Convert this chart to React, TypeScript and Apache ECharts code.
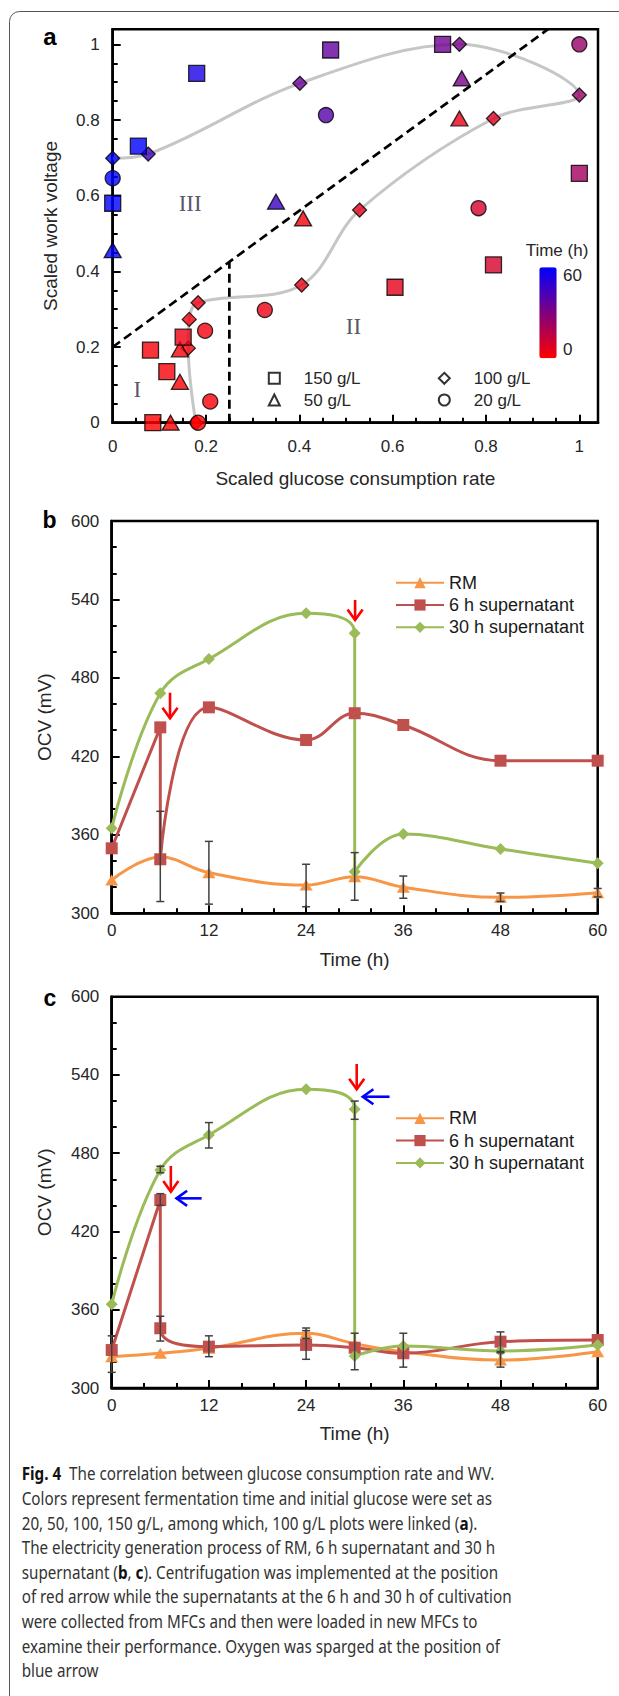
import React, { useEffect, useRef } from "react";
import * as echarts from "echarts";

const FONT = '"Liberation Sans", Arial, sans-serif';
const SERIF = '"Liberation Serif", "Times New Roman", serif';
const CAP_FONT = '"Liberation Sans Narrow", "Noto Sans", sans-serif';

// ---------- Panel a: [scaled glucose consumption rate, scaled work voltage, time (h)] ----------
const glucose150 = [
  [0.18, 0.923, 54], [0.055, 0.731, 60], [0, 0.58, 60], [0.467, 0.985, 37],
  [0.707, 1.0, 34], [1.0, 0.659, 22], [0.816, 0.417, 10], [0.605, 0.358, 6],
  [0.151, 0.226, 4], [0.081, 0.192, 2], [0.116, 0.135, 2], [0.086, 0, 0],
];
const glucose50 = [
  [0, 0.456, 60], [0.35, 0.584, 46], [0.748, 0.91, 32], [0.743, 0.804, 6],
  [0.408, 0.54, 3], [0.144, 0.194, 2], [0.144, 0.108, 1], [0.124, 0, 0],
];
// 100 g/L, listed in time order (these points are linked)
const glucose100 = [
  [0.178, 0, 0], [0.162, 0.197, 2], [0.164, 0.273, 3], [0.183, 0.317, 4],
  [0.405, 0.364, 5], [0.529, 0.562, 6], [0.816, 0.804, 8], [1.0, 0.866, 24],
  [0.743, 1.0, 32], [0.401, 0.897, 36], [0.076, 0.71, 46], [0, 0.699, 60],
];
const glucose20 = [
  [0.183, 0, 0], [0.209, 0.056, 1], [0.198, 0.243, 3], [0.326, 0.298, 4],
  [0.784, 0.567, 10], [0.457, 0.813, 40], [1.0, 1.0, 24], [0, 0.646, 60],
];
const boundaryDiagonal = [[0, 0.2], [0.933, 1.04]];
const boundaryVertical = [[0.25, 0], [0.25, 0.425]];
const regionNames = ["I", "II", "III"];
const regionPositions = [[0.053, 0.088], [0.516, 0.254], [0.166, 0.58]];
const shapeLegendLeft = ["150 g/L", "50 g/L"];
const shapeLegendRight = ["100 g/L", "20 g/L"];
const timeRange = [0, 60];

// ---------- Panel b: [time (h), OCV (mV)] ----------
const rmB = [[0, 325.5], [6, 343], [12, 331], [24, 321.6], [30, 328], [36, 320], [48, 312.2], [60, 315.8]];
const sup6B = [[0, 349.7], [6, 442.2], [6, 341.3], [12, 457.5], [24, 432.5], [30, 453], [36, 444], [48, 416.7], [60, 416.7]];
const sup30B = [[0, 365], [6, 468.2], [12, 494.5], [24, 529.4], [30, 514.1], [30, 331.8], [36, 360.6], [48, 349.2], [60, 338.2]];
// [time, low, high]
const errorB = [[6, 309, 378], [12, 307, 355], [24, 305, 337.5], [30, 310, 346.4], [36, 311.5, 328.5], [48, 309, 315.5], [60, 312.5, 319]];
// [x0, y0, x1(tip), y1(tip)]
const redArrowsB = [[7.2, 468.7, 7.2, 449.1], [30.05, 539.6, 30.05, 524.3]];

// ---------- Panel c ----------
const rmC = [[0, 324], [6, 326.6], [12, 330.4], [24, 342], [30, 334], [36, 327.8], [48, 321.4], [60, 327.8]];
const sup6C = [[0, 329.1], [6, 444.1], [6, 345.8], [12, 331.7], [24, 333], [30, 330.9], [36, 326.6], [48, 335.5], [60, 336.8]];
const sup30C = [[0, 364.2], [6, 467.1], [12, 494], [24, 529], [30, 513.7], [30, 324.5], [36, 332.2], [48, 328.4], [60, 333]];
const errorC = [
  [0, 312, 340], [6, 440, 449], [6, 465, 470], [6, 336, 355], [12, 484, 503.5], [12, 324, 340],
  [24, 322, 344], [24, 338, 346], [30, 506, 520], [30, 314, 342], [36, 316, 342],
  [48, 328, 343], [48, 316, 327],
];
const redArrowsC = [[7.3, 470.2, 7.3, 450.5], [30.25, 548.4, 30.25, 529]];
const blueArrowsC = [[11.1, 445.4, 8.0, 445.4], [34.3, 523.3, 31.0, 523.3]];

const lineNames = ["RM", "6 h supernatant", "30 h supernatant"];
const lineColors = ["#f79646", "#c0504d", "#9bbb59"];

const captionLines = [
  "{b|Fig. 4}  The correlation between glucose consumption rate and WV.",
  "Colors represent fermentation time and initial glucose were set as",
  "20, 50, 100, 150 g/L, among which, 100 g/L plots were linked ({b|a}).",
  "The electricity generation process of RM, 6 h supernatant and 30 h",
  "supernatant ({b|b}, {b|c}). Centrifugation was implemented at the position",
  "of red arrow while the supernatants at the 6 h and 30 h of cultivation",
  "were collected from MFCs and then were loaded in new MFCs to",
  "examine their performance. Oxygen was sparged at the position of",
  "blue arrow",
];

const LABEL_COLOR = "#262626";

function majorAxis(o: any) {
  return {
    type: "value",
    gridIndex: o.gridIndex,
    position: o.position,
    min: o.min,
    max: o.max,
    interval: o.interval,
    name: o.name,
    nameLocation: "middle",
    nameGap: o.nameGap,
    nameTextStyle: { color: LABEL_COLOR, fontSize: 19, fontFamily: FONT },
    axisLine: { show: true, onZero: false, lineStyle: { color: "#000", width: 2.5 } },
    axisTick: { show: true, inside: true, length: 8, lineStyle: { color: "#000", width: 2 } },
    minorTick: o.minor
      ? { show: true, splitNumber: o.minor, length: 5, lineStyle: { color: "#000", width: 2 } }
      : { show: false },
    splitLine: { show: false },
    axisLabel: { color: LABEL_COLOR, fontSize: 17, fontFamily: FONT, margin: o.margin, showMaxLabel: o.showMax !== false },
  };
}
function minorAxis(o: any) {
  return {
    type: "value",
    gridIndex: o.gridIndex,
    position: o.position,
    min: o.min,
    max: o.max,
    interval: o.interval,
    axisLine: { show: false },
    axisTick: { show: true, inside: true, length: 5, lineStyle: { color: "#000", width: 2 } },
    axisLabel: { show: false },
    splitLine: { show: false },
  };
}

function errorSeries(data: number[][], xi: number, yi: number) {
  return {
    type: "custom",
    xAxisIndex: xi,
    yAxisIndex: yi,
    data,
    z: 6,
    silent: true,
    renderItem: (_p: any, api: any) => {
      const x = api.value(0);
      const lo = api.coord([x, api.value(1)]);
      const hi = api.coord([x, api.value(2)]);
      const w = 4;
      const st = { stroke: "#404040", lineWidth: 1.5 };
      return {
        type: "group",
        children: [
          { type: "line", shape: { x1: lo[0], y1: lo[1], x2: hi[0], y2: hi[1] }, style: st },
          { type: "line", shape: { x1: lo[0] - w, y1: lo[1], x2: lo[0] + w, y2: lo[1] }, style: st },
          { type: "line", shape: { x1: hi[0] - w, y1: hi[1], x2: hi[0] + w, y2: hi[1] }, style: st },
        ],
      };
    },
  };
}

function arrowSeries(data: number[][], color: string, xi: number, yi: number) {
  return {
    type: "custom",
    xAxisIndex: xi,
    yAxisIndex: yi,
    data,
    z: 7,
    silent: true,
    renderItem: (_p: any, api: any) => {
      const p0 = api.coord([api.value(0), api.value(1)]);
      const p1 = api.coord([api.value(2), api.value(3)]);
      const ang = Math.atan2(p1[1] - p0[1], p1[0] - p0[0]);
      const h = 13;
      const a = 0.62;
      const l = [p1[0] - h * Math.cos(ang - a), p1[1] - h * Math.sin(ang - a)];
      const r = [p1[0] - h * Math.cos(ang + a), p1[1] - h * Math.sin(ang + a)];
      const st = { stroke: color, lineWidth: 2.6, fill: "none" };
      return {
        type: "group",
        children: [
          { type: "line", shape: { x1: p0[0], y1: p0[1], x2: p1[0], y2: p1[1] }, style: st },
          { type: "polyline", shape: { points: [l, p1, r] }, style: st },
        ],
      };
    },
  };
}

function ocvLines(datas: number[][][], xi: number, yi: number) {
  const symbols = ["triangle", "rect", "diamond"];
  const sizes: any[] = [[13, 11], 12, [12, 12]];
  return datas.map((d, i) => ({
    type: "line",
    name: lineNames[i],
    xAxisIndex: xi,
    yAxisIndex: yi,
    data: d,
    smooth: 0.4,
    symbol: symbols[i],
    symbolSize: sizes[i],
    showSymbol: true,
    lineStyle: { color: lineColors[i], width: 3 },
    itemStyle: { color: lineColors[i] },
    z: 3,
  }));
}

export default function App() {
  const ref = useRef<HTMLDivElement>(null);
  useEffect(() => {
    if (!ref.current) return;
    const chart = echarts.init(ref.current, null, { renderer: "svg" });

    const ctx = document.createElement("canvas").getContext("2d")!;
    ctx.font = `18px ${CAP_FONT}`;
    const capScale = 490 / ctx.measureText(captionLines[5]).width;

    const scatterCommon = {
      type: "scatter",
      xAxisIndex: 0,
      yAxisIndex: 0,
      itemStyle: { borderColor: "#000", borderWidth: 1.3 },
    };

    const legendA = (names: string[], left: number) => ({
      data: names,
      orient: "vertical",
      left,
      top: 369.8,
      itemWidth: 11,
      itemHeight: 11,
      itemGap: 4.7,
      padding: 0,
      itemStyle: { color: "#fff", borderColor: "#000", borderWidth: 2 },
      textStyle: { fontSize: 17, color: LABEL_COLOR, fontFamily: FONT, padding: [0, 0, 0, 19] },
    });
    const legendLine = (top: number) => ({
      data: lineNames,
      orient: "vertical",
      left: 395,
      top,
      itemWidth: 48,
      itemHeight: 14,
      itemGap: 4.3,
      padding: 0,
      textStyle: { fontSize: 18, color: "#1a1a1a", fontFamily: FONT },
    });

    const option: any = {
      animation: false,
      backgroundColor: "#fff",
      textStyle: { fontFamily: FONT },
      grid: [
        { left: 112.7, top: 29.2, width: 485.3, height: 393.5, show: true, borderColor: "#000", borderWidth: 2.5 },
        { left: 111.7, top: 521, width: 486, height: 392.3, show: true, borderColor: "#000", borderWidth: 2.5 },
        { left: 111.7, top: 996.7, width: 486, height: 391.3, show: true, borderColor: "#000", borderWidth: 2.5 },
      ],
      xAxis: [
        majorAxis({ gridIndex: 0, position: "bottom", min: 0, max: 1.04, interval: 0.2, name: "Scaled glucose consumption rate", nameGap: 46, margin: 15, showMax: false }),
        minorAxis({ gridIndex: 0, position: "bottom", min: 0, max: 1.04, interval: 0.05 }),
        majorAxis({ gridIndex: 1, position: "bottom", min: timeRange[0], max: timeRange[1], interval: 12, minor: 3, name: "Time (h)", nameGap: 37, margin: 8.5 }),
        majorAxis({ gridIndex: 2, position: "bottom", min: timeRange[0], max: timeRange[1], interval: 12, minor: 3, name: "Time (h)", nameGap: 35.5, margin: 8.5 }),
      ],
      yAxis: [
        majorAxis({ gridIndex: 0, position: "left", min: 0, max: 1.04, interval: 0.2, name: "Scaled work voltage", nameGap: 53, margin: 13, showMax: false }),
        minorAxis({ gridIndex: 0, position: "left", min: 0, max: 1.04, interval: 0.05 }),
        majorAxis({ gridIndex: 1, position: "left", min: 300, max: 600, interval: 60, minor: 3, name: "OCV (mV)", nameGap: 58, margin: 12.4 }),
        majorAxis({ gridIndex: 2, position: "left", min: 300, max: 600, interval: 60, minor: 3, name: "OCV (mV)", nameGap: 58, margin: 12.4 }),
      ],
      visualMap: [
        {
          type: "continuous",
          min: timeRange[0],
          max: timeRange[1],
          dimension: 2,
          seriesIndex: [0, 1, 2, 3],
          inRange: { color: ["#ff0000", "#0000ff"] },
          calculable: false,
          orient: "vertical",
          left: 539.3,
          top: 267.3,
          itemWidth: 17.4,
          itemHeight: 91,
          padding: 0,
        },
      ],
      legend: [legendA(shapeLegendLeft, 267.8), legendA(shapeLegendRight, 437.8), legendLine(573.7), legendLine(1109.3)],
      series: [
        { ...scatterCommon, name: "100 g/L", data: glucose100, symbol: "diamond", symbolSize: [14, 14], z: 5 },
        { ...scatterCommon, name: "20 g/L", data: glucose20, symbol: "circle", symbolSize: 15, z: 6 },
        { ...scatterCommon, name: "50 g/L", data: glucose50, symbol: "triangle", symbolSize: [17, 15], z: 5 },
        { ...scatterCommon, name: "150 g/L", data: glucose150, symbol: "rect", symbolSize: 16, z: 5 },
        {
          type: "line",
          xAxisIndex: 0,
          yAxisIndex: 0,
          data: glucose100.map((d) => [d[0], d[1]]),
          smooth: 0.35,
          symbol: "none",
          silent: true,
          lineStyle: { color: "#c6c6c6", width: 3 },
          z: 2,
        },
        {
          type: "line",
          xAxisIndex: 0,
          yAxisIndex: 0,
          data: boundaryDiagonal,
          symbol: "none",
          silent: true,
          lineStyle: { color: "#000", width: 2.7, type: [9, 5] },
          z: 3,
        },
        {
          type: "line",
          xAxisIndex: 0,
          yAxisIndex: 0,
          data: boundaryVertical,
          symbol: "none",
          silent: true,
          lineStyle: { color: "#000", width: 2.7, type: [9, 5] },
          z: 3,
        },
        {
          type: "scatter",
          xAxisIndex: 0,
          yAxisIndex: 0,
          silent: true,
          data: regionNames.map((n, i) => ({ name: n, value: regionPositions[i] })),
          symbolSize: 1,
          itemStyle: { color: "rgba(0,0,0,0)" },
          label: { show: true, formatter: "{b}", position: "inside", fontFamily: SERIF, fontSize: 23, color: "#2e2a44" },
          z: 1,
        },
        ...ocvLines([rmB, sup6B, sup30B], 2, 2),
        errorSeries(errorB, 2, 2),
        arrowSeries(redArrowsB, "#ff0000", 2, 2),
        ...ocvLines([rmC, sup6C, sup30C], 3, 3),
        errorSeries(errorC, 3, 3),
        arrowSeries(redArrowsC, "#ff0000", 3, 3),
        arrowSeries(blueArrowsC, "#0000ff", 3, 3),
      ],
      graphic: [
        {
          type: "rect",
          z: -10,
          silent: true,
          shape: { x: 9.5, y: 11.5, width: 800, height: 1800, r: 10 },
          style: { fill: "none", stroke: "#555", lineWidth: 1 },
        },
        { type: "text", x: 50, y: 36, style: { text: "a", font: `bold 24px ${FONT}`, fill: "#000", align: "center", verticalAlign: "middle" } },
        { type: "text", x: 49.5, y: 520, style: { text: "b", font: `bold 23px ${FONT}`, fill: "#000", align: "center", verticalAlign: "middle" } },
        { type: "text", x: 50, y: 998, style: { text: "c", font: `bold 23px ${FONT}`, fill: "#000", align: "center", verticalAlign: "middle" } },
        { type: "text", x: 557, y: 250, style: { text: "Time (h)", font: `17px ${FONT}`, fill: LABEL_COLOR, align: "center", verticalAlign: "middle" } },
        { type: "text", x: 563, y: 275.5, style: { text: String(timeRange[1]), font: `17px ${FONT}`, fill: LABEL_COLOR, align: "left", verticalAlign: "middle" } },
        { type: "text", x: 563, y: 349, style: { text: String(timeRange[0]), font: `17px ${FONT}`, fill: LABEL_COLOR, align: "left", verticalAlign: "middle" } },
        ...captionLines.map((line, i) => ({
          type: "text",
          x: 21.7,
          y: 1473.3 + 24.6 * i,
          scaleX: capScale,
          style: {
            text: line,
            font: `18px ${CAP_FONT}`,
            fill: "#333",
            align: "left",
            verticalAlign: "middle",
            rich: { b: { fontWeight: "bold", fontSize: 18, fontFamily: CAP_FONT, fill: "#111" } },
          },
        })),
      ],
    };
    chart.setOption(option);
    return () => chart.dispose();
  }, []);
  return (
    <div
      ref={ref}
      style={{ position: "absolute", left: 0, top: 0, width: 619, height: 1696, background: "#fff" }}
    />
  );
}
